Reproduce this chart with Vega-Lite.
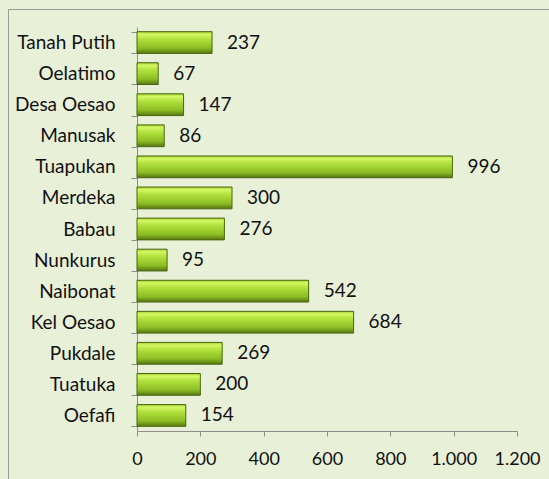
{
  "$schema": "https://vega.github.io/schema/vega-lite/v6.json",
  "autosize": {"type": "none"},
  "width": 541,
  "height": 470,
  "padding": {"left": 8, "top": 9, "right": 0, "bottom": 0},
  "background": "#E8F0D8",
  "config": {
    "view": {"stroke": "#9A9A9A", "strokeWidth": 1, "fill": "#E8F0D8"},
    "font": "Lato",
    "axis": {"labelFont": "Lato", "labelFontSize": 19, "labelColor": "#111111", "domainColor": "#8C8C8C", "tickColor": "#8C8C8C", "grid": false, "title": null, "labelOverlap": false}
  },
  "data": {
    "values": [
      {"desa": "Tanah Putih", "jumlah": 237},
      {"desa": "Oelatimo", "jumlah": 67},
      {"desa": "Desa Oesao", "jumlah": 147},
      {"desa": "Manusak", "jumlah": 86},
      {"desa": "Tuapukan", "jumlah": 996},
      {"desa": "Merdeka", "jumlah": 300},
      {"desa": "Babau", "jumlah": 276},
      {"desa": "Nunkurus", "jumlah": 95},
      {"desa": "Naibonat", "jumlah": 542},
      {"desa": "Kel Oesao", "jumlah": 684},
      {"desa": "Pukdale", "jumlah": 269},
      {"desa": "Tuatuka", "jumlah": 200},
      {"desa": "Oefafi", "jumlah": 154}
    ]
  },
  "encoding": {
    "y": {
      "field": "desa", "type": "nominal", "sort": null,
      "scale": {"range": [18, 422], "paddingInner": 0.3, "paddingOuter": 0.15},
      "axis": {"orient": "left", "offset": -129, "tickBand": "extent", "tickSize": 6, "labelPadding": 16, "title": null}
    },
    "x": {
      "field": "jumlah", "type": "quantitative",
      "scale": {"domain": [0, 1200], "range": [129, 509], "nice": false, "zero": true},
      "axis": {"orient": "bottom", "offset": -48, "values": [0, 200, 400, 600, 800, 1000, 1200], "tickSize": 5, "labelPadding": 14, "labelOverlap": false, "labelFlush": false, "labelFontSize": 18, "labelExpr": "replace(format(datum.value, ','), ',', '.')", "title": null}
    }
  },
  "layer": [
    {
      "mark": {
        "type": "bar",
        "stroke": "#4A6610",
        "strokeWidth": 1,
        "fill": {
          "gradient": "linear", "x1": 0, "y1": 0, "x2": 0, "y2": 1,
          "stops": [
            {"offset": 0, "color": "#A2D030"},
            {"offset": 0.12, "color": "#D4F864"},
            {"offset": 0.35, "color": "#B0E03C"},
            {"offset": 0.75, "color": "#8CBE24"},
            {"offset": 1, "color": "#567610"}
          ]
        }
      }
    },
    {
      "mark": {"type": "text", "align": "left", "baseline": "middle", "dx": 15, "font": "Lato", "fontSize": 19, "color": "#111111"},
      "encoding": {"text": {"field": "jumlah", "type": "quantitative"}}
    }
  ]
}
